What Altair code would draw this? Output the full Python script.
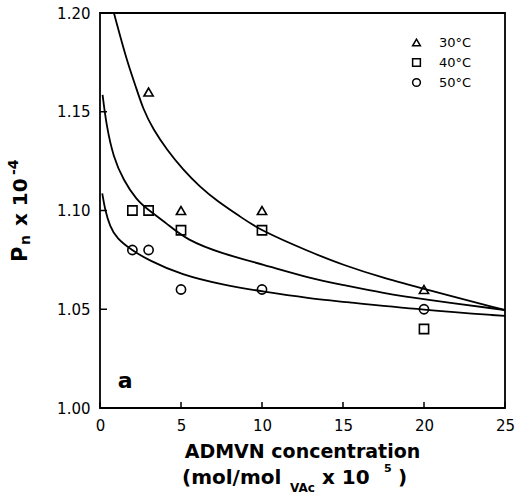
import altair as alt
import pandas as pd

# ---------------- data ----------------
series = ["30°C", "40°C", "50°C"]
shapes = ["triangle-up", "square", "circle"]

# measured points
x30 = [3, 5, 10, 20]
y30 = [1.16, 1.10, 1.10, 1.06]
x40 = [2, 3, 5, 10, 20]
y40 = [1.10, 1.10, 1.09, 1.09, 1.04]
x50 = [2, 3, 5, 10, 20]
y50 = [1.08, 1.08, 1.06, 1.06, 1.05]

# fitted curves
cx30 = [0.86, 1.65, 2.16, 2.67, 3.29, 4.11, 5.14, 6.17, 7.2, 8.64, 9.88, 12.96, 15, 17.5, 20, 25]
cy30 = [1.200, 1.176, 1.164, 1.151, 1.141, 1.131, 1.1205, 1.112, 1.105, 1.097, 1.090, 1.079, 1.0724, 1.0658, 1.0603, 1.0496]
cx40 = [0.16, 0.41, 0.82, 1.44, 2.26, 2.98, 4.11, 5.35, 7.6, 10, 12.96, 15, 17.5, 20, 25]
cy40 = [1.1585, 1.1424, 1.1272, 1.1154, 1.1053, 1.1003, 1.0935, 1.085, 1.078, 1.0728, 1.0657, 1.0623, 1.0581, 1.055, 1.0496]
cx50 = [0.14, 0.31, 0.62, 1.03, 1.95, 2.98, 5.04, 7.6, 10.08, 12.96, 15, 20, 25]
cy50 = [1.1087, 1.1003, 1.0918, 1.0859, 1.080, 1.0749, 1.0673, 1.0623, 1.0589, 1.0555, 1.0538, 1.0496, 1.0466]

x_ticks = [0, 5, 10, 15, 20, 25]
y_ticks = [1.00, 1.05, 1.10, 1.15, 1.20]

panel_label = ["a"]
panel_x = [1.55]
panel_y = [1.0135]

# ---------------- build tables ----------------
pts = pd.concat([
    pd.DataFrame({"series": series[0], "x": x30, "y": y30}),
    pd.DataFrame({"series": series[1], "x": x40, "y": y40}),
    pd.DataFrame({"series": series[2], "x": x50, "y": y50}),
])
curves = pd.concat([
    pd.DataFrame({"series": series[0], "x": cx30, "y": cy30}),
    pd.DataFrame({"series": series[1], "x": cx40, "y": cy40}),
    pd.DataFrame({"series": series[2], "x": cx50, "y": cy50}),
])
xt = pd.DataFrame({"x": x_ticks})
yt = pd.DataFrame({"y": y_ticks})
ann = pd.DataFrame({"x": panel_x, "y": panel_y, "t": panel_label})

W, H = 405, 395
FONT = "DejaVu Sans"

xs = alt.Scale(domain=[0, 25], nice=False, zero=False)
ys = alt.Scale(domain=[1.0, 1.2], nice=False, zero=False)

xaxis = alt.Axis(values=x_ticks, title=None, format="d", labelFlush=False,
                 labelPadding=10, labelFontSize=15, labelFont=FONT,
                 labelColor="black", ticks=False, tickSize=0, domain=False, grid=False)
yaxis = alt.Axis(values=y_ticks, title=None, format=".2f", labelFlush=False,
                 labelPadding=10, labelFontSize=15, labelFont=FONT,
                 labelColor="black", ticks=False, tickSize=0, domain=False, grid=False)

lines = alt.Chart(curves).mark_line(
    interpolate="basis", color="black", strokeWidth=1.8, clip=True
).encode(
    x=alt.X("x:Q", scale=xs, axis=xaxis),
    y=alt.Y("y:Q", scale=ys, axis=yaxis),
    detail="series:N",
)

points = alt.Chart(pts).mark_point(
    filled=False, color="black", size=85, strokeWidth=1.6, opacity=1
).encode(
    x=alt.X("x:Q", scale=xs),
    y=alt.Y("y:Q", scale=ys),
    shape=alt.Shape("series:N", scale=alt.Scale(domain=series, range=shapes),
                    legend=alt.Legend(orient="none", legendX=310, legendY=23,
                                      title=None, symbolSize=60,
                                      symbolStrokeWidth=1.5,
                                      symbolStrokeColor="black",
                                      symbolFillColor="transparent",
                                      labelFont=FONT, labelFontSize=13,
                                      labelColor="black", labelOffset=16,
                                      rowPadding=5, padding=0)),
)

xtick_marks = alt.Chart(xt).mark_rule(color="black", strokeWidth=1.5).encode(
    x=alt.X("x:Q", scale=xs), y=alt.value(H), y2=alt.value(H - 6))
ytick_marks = alt.Chart(yt).mark_rule(color="black", strokeWidth=1.5).encode(
    y=alt.Y("y:Q", scale=ys), x=alt.value(0), x2=alt.value(7))

panel = alt.Chart(ann).mark_text(font=FONT, fontSize=22, fontWeight="bold",
                                 color="black").encode(
    x=alt.X("x:Q", scale=xs), y=alt.Y("y:Q", scale=ys), text="t:N")


def label(txt, x, y, size, align="left", baseline="middle", angle=0, dx=0, dy=0, weight="bold"):
    kw = dict(font=FONT, fontSize=size, fontWeight=weight, color="black",
              align=align, baseline=baseline, dx=dx, dy=dy)
    if angle:
        kw["angle"] = angle
    return alt.Chart(pd.DataFrame({"t": [txt]})).mark_text(**kw).encode(
        x=alt.value(x), y=alt.value(y), text="t:N")


# x-axis title
xt1 = label("ADMVN concentration", W / 2, 439, 19, align="center")
xt2a = label("(mol/mol", 82, 465, 20)
xt2b = label("VAc", 190, 475, 12)
xt2c = label("x 10", 222, 465, 20)
xt2d = label("5", 284, 456, 11)
xt2e = label(")", 298, 465, 20)

# y-axis title (rotated, pieces along the text direction)
YX, YY = -73, 249
yt1 = label("P", YX, YY, 21, baseline="alphabetic", angle=270)
yt2 = label("n", YX, YY, 14, baseline="alphabetic", angle=270, dx=17, dy=3)
yt3 = label("x 10", YX, YY, 20, baseline="alphabetic", angle=270, dx=36)
yt4 = label("-4", YX, YY, 14, baseline="alphabetic", angle=270, dx=87, dy=-9)

chart = alt.layer(
    lines, points, xtick_marks, ytick_marks, panel,
    xt1, xt2a, xt2b, xt2c, xt2d, xt2e, yt1, yt2, yt3, yt4,
).properties(
    width=W, height=H,
    background="white",
    autosize=alt.AutoSizeParams(type="none"),
    padding={"left": 100, "top": 13, "right": 12, "bottom": 87},
).configure_view(
    stroke="black", strokeWidth=1.8
)

chart.save("out.html", embed_options={"renderer": "svg", "actions": False})
